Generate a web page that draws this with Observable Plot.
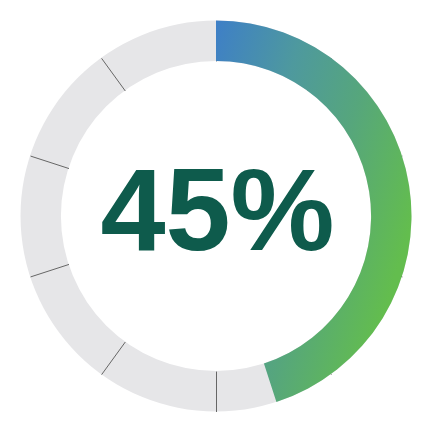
<!DOCTYPE html>
<html>
<head>
<meta charset="utf-8">
<script src="https://cdn.jsdelivr.net/npm/d3@7"></script>
<script src="https://cdn.jsdelivr.net/npm/@observablehq/plot@0.6"></script>
<style>
  html, body { margin: 0; padding: 0; background: #ffffff; }
  #chart { width: 432px; height: 432px; }
</style>
</head>
<body>
<div id="chart"></div>
<script>
// ---- data ----
const progress = [45];                                   // percent filled
const segmentTicks = [0, 10, 20, 30, 40, 50, 60, 70, 80, 90]; // segment dividers (percent)
const labels = ["45%"];

// ---- style constants ----
const R_OUT = 0.905;
const R_IN = 0.718;
const TRACK = "#e6e6e8";
const TEXT = "#0e5b4c";

// ring arc mark drawn with d3.arc through Plot's scales
function ringArc(from, to, fill, defs) {
  return (index, scales) => {
    const cx = scales.x(0), cy = scales.y(0);
    const k = Math.abs(scales.x(1) - scales.x(0));
    const g = d3.create("svg:g");
    if (defs) defs(g, k * R_OUT);
    g.append("path")
      .attr("transform", `translate(${cx},${cy})`)
      .attr("d", d3.arc()
        .innerRadius(k * R_IN)
        .outerRadius(k * R_OUT)
        .startAngle(from / 100 * 2 * Math.PI)
        .endAngle(to / 100 * 2 * Math.PI)())
      .attr("fill", fill);
    return g.node();
  };
}

// gradient in the path's local (centre-origin) coordinates
function gradientDefs(g, r) {
  const lg = g.append("defs").append("linearGradient")
    .attr("id", "progressGrad")
    .attr("gradientUnits", "userSpaceOnUse")
    .attr("x1", 0).attr("y1", -r)
    .attr("x2", r * 1.2).attr("y2", -r + r * 0.36);
  [[0, "#3e7fc7"], [0.35, "#4e999e"], [0.65, "#56a67c"], [1, "#63bd4e"]]
    .forEach(([o, c]) => lg.append("stop").attr("offset", o).attr("stop-color", c));
}

const tickData = segmentTicks.map(p => {
  const a = p / 100 * 2 * Math.PI;
  return {
    x1: R_IN * Math.sin(a), y1: R_IN * Math.cos(a),
    x2: R_OUT * Math.sin(a), y2: R_OUT * Math.cos(a)
  };
});

const chart = Plot.plot({
  width: 432,
  height: 432,
  margin: 0,
  x: { domain: [-1, 1], axis: null },
  y: { domain: [-1, 1], axis: null },
  style: { background: "transparent" },
  marks: [
    ringArc(0, 100, TRACK),
    Plot.link(tickData, { x1: "x1", y1: "y1", x2: "x2", y2: "y2", stroke: "#666666", strokeWidth: 1 }),
    ringArc(0, progress[0], "url(#progressGrad)", gradientDefs),
    Plot.text(labels, {
      x: 0, y: 0, text: d => d,
      fontSize: 117, fontWeight: 700,
      fontFamily: "Liberation Sans, Arial, sans-serif",
      fill: TEXT, dy: -4, dx: 1
    })
  ]
});
document.getElementById("chart").appendChild(chart);
</script>
</body>
</html>
